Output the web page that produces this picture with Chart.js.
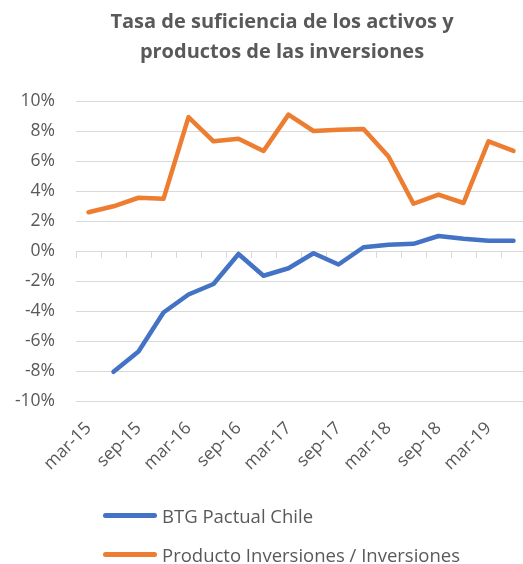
<!DOCTYPE html>
<html>
<head>
<meta charset="utf-8">
<script src="https://cdn.jsdelivr.net/npm/chart.js@4"></script>
<style>
  html, body { margin: 0; padding: 0; overflow: hidden; background: #fff; }
  #wrap { position: relative; width: 527px; height: 564px; }
  #legend { position: absolute; left: 103px; top: 502px; font: 18.5px "Open Sans", sans-serif; color: #595959; }
  .item { display: flex; align-items: center; height: 27px; margin-bottom: 12px; }
  .swatch { width: 54px; height: 5px; border-radius: 3px; margin-right: 5px; }
</style>
</head>
<body>
<div id="wrap">
  <canvas id="myChart" width="527" height="564"></canvas>
  <div id="legend"></div>
</div>
<script>
// --------------------------------------------------------------------------------------------------------------------
// data

const titleLines = ["Tasa de suficiencia de los activos y", "productos de las inversiones"];

const quarters = [
  "mar-15", "jun-15", "sep-15", "dic-15",
  "mar-16", "jun-16", "sep-16", "dic-16",
  "mar-17", "jun-17", "sep-17", "dic-17",
  "mar-18", "jun-18", "sep-18", "dic-18",
  "mar-19", "jun-19"
];

const btgValues = [null, -8.05, -6.7, -4.1, -2.9, -2.2, -0.2, -1.65, -1.15, -0.15, -0.9, 0.25, 0.42, 0.48, 1.0, 0.82, 0.68, 0.68];
const productoValues = [2.58, 2.98, 3.55, 3.48, 8.93, 7.31, 7.49, 6.67, 9.09, 8.0, 8.08, 8.14, 6.3, 3.15, 3.76, 3.2, 7.31, 6.67];

const yMin = -10;
const yMax = 10;
const yStep = 2;

const textColor = "#595959";
const gridColor = "#d9d9d9";

// --------------------------------------------------------------------------------------------------------------------
// title drawn over the plot area like excel does

const titlePlugin = {
  id: "excelTitle",
  afterDraw(chart) {
    const ctx = chart.ctx;
    ctx.save();
    ctx.font = 'bold 20px "Open Sans"';
    ctx.fillStyle = textColor;
    ctx.textAlign = "center";
    ctx.textBaseline = "alphabetic";
    ctx.fillText(titleLines[0], 282, 28);
    ctx.fillText(titleLines[1], 282, 58);
    ctx.restore();
  }
};

// --------------------------------------------------------------------------------------------------------------------
// line chart

const chart = new Chart("myChart", {
  type: "line",
  data: {
    labels: quarters,
    datasets: [{
      label: "BTG Pactual Chile",
      data: btgValues,
      borderColor: "#4472C4",
      backgroundColor: "#4472C4",
      borderWidth: 4.5,
      borderCapStyle: "round",
      borderJoinStyle: "round",
      pointRadius: 0,
      fill: false
    }, {
      label: "Producto Inversiones / Inversiones",
      data: productoValues,
      borderColor: "#ED7D31",
      backgroundColor: "#ED7D31",
      borderWidth: 4.5,
      borderCapStyle: "round",
      borderJoinStyle: "round",
      pointRadius: 0,
      fill: false
    }]
  },
  options: {
    responsive: false,
    animation: false,
    layout: { padding: { top: 101, right: 1, left: 0, bottom: 0 } },
    plugins: {
      legend: { display: false },
      title: { display: false },
      tooltip: { enabled: false }
    },
    scales: {
      x: {
        offset: true,
        grid: { display: false, drawTicks: false },
        border: { display: false },
        ticks: {
          autoSkip: false,
          minRotation: 45,
          maxRotation: 45,
          padding: 17,
          color: textColor,
          font: { family: "Open Sans", size: 17.5 },
          callback: function (value, index) {
            return index % 2 === 0 ? this.getLabelForValue(value) : "";
          }
        },
        afterFit: function (scale) {
          scale.height = 163;
          scale.paddingLeft = 0;
          scale.paddingRight = 0;
        }
      },
      x2: {
        type: "category",
        labels: quarters,
        position: { y: 0 },
        offset: true,
        grid: { offset: true, drawOnChartArea: false, tickLength: 6, color: gridColor },
        border: { color: gridColor },
        ticks: { display: false }
      },
      y: {
        min: yMin,
        max: yMax,
        grid: { color: gridColor, drawTicks: false },
        border: { display: false },
        ticks: {
          stepSize: yStep,
          padding: 21,
          color: textColor,
          font: { family: "Open Sans", size: 17.5 },
          callback: function (value) { return value + "%"; }
        },
        afterFit: function (scale) { scale.width = 76; }
      }
    }
  },
  plugins: [titlePlugin]
});

// --------------------------------------------------------------------------------------------------------------------
// legend

const legendBox = document.getElementById("legend");
chart.data.datasets.forEach(function (ds) {
  const item = document.createElement("div");
  item.className = "item";
  const sw = document.createElement("span");
  sw.className = "swatch";
  sw.style.background = ds.borderColor;
  const txt = document.createElement("span");
  txt.textContent = ds.label;
  item.appendChild(sw);
  item.appendChild(txt);
  legendBox.appendChild(item);
});
</script>
</body>
</html>
